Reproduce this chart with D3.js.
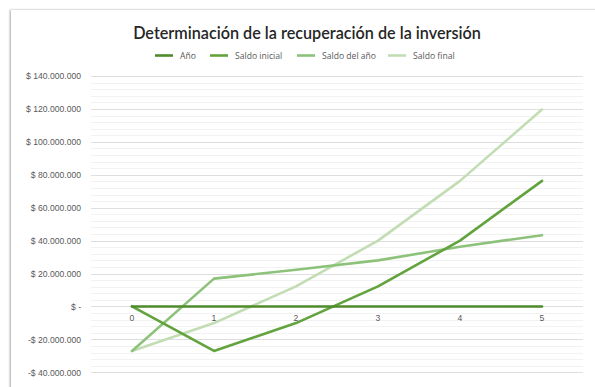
<!DOCTYPE html>
<html><head><meta charset="utf-8">
<script src="https://cdn.jsdelivr.net/npm/d3@7"></script>
<style>
body{margin:0;background:#fff;}
svg{display:block;font-family:"Open Sans","DejaVu Sans",sans-serif;}
</style></head>
<body><svg id="c" width="595" height="387"></svg>
<script>
const years = [0, 1, 2, 3, 4, 5];
const ano = [0, 1, 2, 3, 4, 5];
const saldoInicial = [0, -27000000, -10100000, 12200000, 40000000, 76300000];
const saldoDelAno = [-27000000, 16900000, 22300000, 28000000, 36300000, 43300000];
const saldoFinal = [-27000000, -10100000, 12200000, 40000000, 76300000, 119600000];
const seriesNames = ["Año", "Saldo inicial", "Saldo del año", "Saldo final"];
const yTicks = [-40000000, -20000000, 0, 20000000, 40000000, 60000000, 80000000, 100000000, 120000000, 140000000];
const title = "Determinación de la recuperación de la inversión";

(function(){
const colors = ["#4f8a2b", "#62a33d", "#8cc27a", "#c2ddb3"];
const svg = d3.select("#c");

// card with shadow
const defs = svg.append("defs");
const f = defs.append("filter").attr("id","sh").attr("x","-5%").attr("y","-5%").attr("width","110%").attr("height","110%");
f.append("feDropShadow").attr("dx",-1).attr("dy",0).attr("stdDeviation",1.2).attr("flood-color","#000").attr("flood-opacity",0.35);
svg.append("rect").attr("x",11).attr("y",10).attr("width",600).attr("height",400).attr("fill","#fff").attr("filter","url(#sh)");

const pLeft = 91, pRight = 583;
const x = d3.scaleBand().domain(years).range([pLeft, pRight]);
const y = d3.scaleLinear().domain([-40000000, 140000000]).range([372.3, 76]);

// minor gridlines
const minor = d3.range(-40000000, 140000001, 4000000);
svg.append("g").selectAll("line").data(minor).join("line")
  .attr("x1", pLeft).attr("x2", pRight)
  .attr("y1", d => Math.round(y(d)) + 0.5).attr("y2", d => Math.round(y(d)) + 0.5)
  .attr("stroke", "#f2f2f2").attr("stroke-width", 1);
// major gridlines
svg.append("g").selectAll("line").data(yTicks).join("line")
  .attr("x1", pLeft).attr("x2", pRight)
  .attr("y1", d => Math.round(y(d)) + 0.5).attr("y2", d => Math.round(y(d)) + 0.5)
  .attr("stroke", "#dedede").attr("stroke-width", 1);

// y axis labels
const fmt = d => {
  if (d === 0) return "$ -";
  const s = d3.format(",")(Math.abs(d)).replace(/,/g, ".");
  return (d < 0 ? "-$ " : "$ ") + s;
};
const yAxis = d3.axisLeft(y).tickValues(yTicks).tickFormat(fmt).tickSize(0).tickPadding(0);
const ya = svg.append("g").attr("transform", "translate(81,0)").call(yAxis);
ya.select(".domain").remove();
ya.selectAll("text").attr("fill", "#595959").attr("font-size", "8.6px");

// x axis labels (at zero line)
const xAxis = d3.axisBottom(x).tickSize(0).tickPadding(8);
const xa = svg.append("g").attr("transform", `translate(0,${y(0)})`).call(xAxis);
xa.select(".domain").remove();
xa.selectAll("text").attr("fill", "#595959").attr("font-size", "8.6px");

// lines
const data = [ano, saldoInicial, saldoDelAno, saldoFinal];
const line = d3.line().x((d, i) => x(years[i]) + x.bandwidth() / 2).y(d => y(d));
[3, 2, 1, 0].forEach(k => {
  svg.append("path").datum(data[k]).attr("d", line)
    .attr("fill", "none").attr("stroke", colors[k]).attr("stroke-width", 2.6)
    .attr("stroke-linejoin", "round").attr("stroke-linecap", "round");
});

// title
svg.append("text").attr("x", 307).attr("y", 39).attr("text-anchor", "middle")
  .attr("font-size", "16.2px").attr("font-weight", "600").attr("fill", "#262626")
  .attr("font-family", "Lato, 'Open Sans', sans-serif").text(title);

// legend
const legX = [155, 210, 297, 388];
const lg = svg.append("g");
seriesNames.forEach((n, i) => {
  lg.append("line").attr("x1", legX[i]).attr("x2", legX[i] + 18).attr("y1", 55.5).attr("y2", 55.5)
    .attr("stroke", colors[i]).attr("stroke-width", 2.6);
  lg.append("text").attr("x", legX[i] + 25).attr("y", 58.5).attr("font-size", "8.6px")
    .attr("fill", "#595959").text(n);
});
})();
</script></body></html>
